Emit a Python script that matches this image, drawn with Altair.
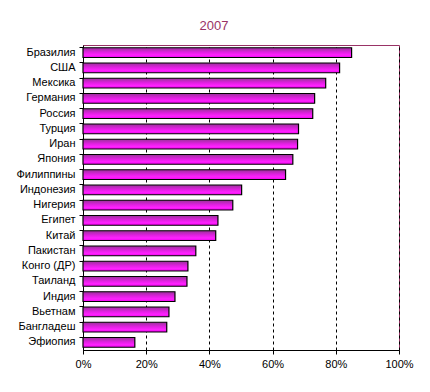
import altair as alt
import pandas as pd

countries = ["Бразилия", "США", "Мексика", "Германия", "Россия", "Турция", "Иран",
             "Япония", "Филиппины", "Индонезия", "Нигерия", "Египет", "Китай",
             "Пакистан", "Конго (ДР)", "Таиланд", "Индия", "Вьетнам", "Бангладеш", "Эфиопия"]
values = [85.0, 81.2, 76.8, 73.3, 72.7, 68.2, 67.9, 66.4, 64.1, 50.2,
          47.4, 42.7, 42.0, 35.7, 33.2, 32.9, 29.1, 27.2, 26.5, 16.4]
x_ticks = [0, 0.2, 0.4, 0.6, 0.8, 1.0]

df = pd.DataFrame({"country": countries, "value": [v / 100 for v in values]})

W, H = 316, 305

grad = alt.Gradient(
    gradient="linear", x1=0, x2=0, y1=0, y2=1,
    stops=[alt.GradientStop(color="#993399", offset=0),
           alt.GradientStop(color="#e020e0", offset=0.45),
           alt.GradientStop(color="#ff22ff", offset=0.75),
           alt.GradientStop(color="#ee00ee", offset=1)],
)

chart = alt.Chart(df).mark_bar(
    color=grad, stroke="black", strokeWidth=1.2
).encode(
    x=alt.X("value:Q", scale=alt.Scale(domain=[0, 1], nice=False),
            axis=alt.Axis(values=x_ticks, format="%", title=None, grid=True,
                          gridColor="black", gridDash=[3, 3], gridOpacity=1,
                          domainColor="black", tickColor="black", tickSize=4,
                          labelFlush=False,
                          labelPadding=4, labelFont="Liberation Sans", labelFontSize=11,
                          labelColor="black")),
    y=alt.Y("country:N", sort=countries,
            scale=alt.Scale(paddingInner=0.36, paddingOuter=0.18),
            axis=alt.Axis(title=None, bandPosition=0,
                          domainColor="black", tickColor="black", tickSize=4,
                          labelPadding=4, labelFont="Liberation Sans", labelFontSize=11,
                          labelColor="black", grid=False)),
).properties(
    width=W, height=H,
    title=alt.TitleParams("2007", color="#993366", font="Liberation Sans", fontSize=13,
                          fontWeight="normal", dx=-27, offset=12),
    autosize=alt.AutoSizeParams(type="none"),
    padding={"left": 75, "top": 37, "right": 20, "bottom": 30},
).configure_view(
    stroke="#993366", strokeWidth=1
)

chart.save("out.html", embed_options={"renderer": "svg", "actions": False})
